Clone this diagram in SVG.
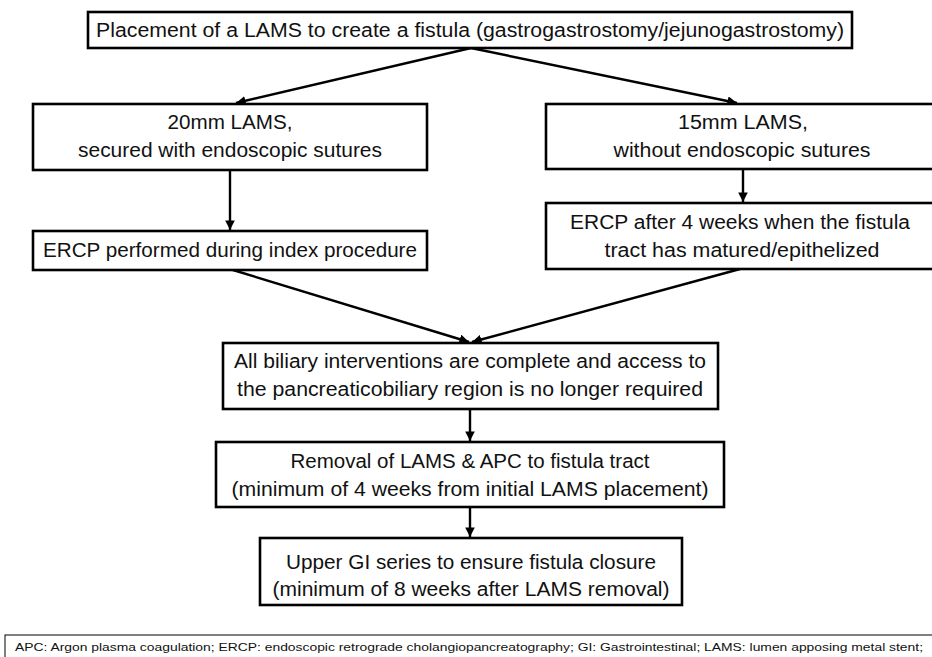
<svg xmlns="http://www.w3.org/2000/svg" width="932" height="657" viewBox="0 0 932 657">
<defs>
<marker id="ah" viewBox="0 0 10 10" refX="10" refY="5" markerWidth="4" markerHeight="4" orient="auto" markerUnits="strokeWidth">
<path d="M0,0 L10,5 L0,10 z" fill="#000"/>
</marker>
<style>
.box{fill:#fff;stroke:#000;stroke-width:2.6}
.t{font-family:'Liberation Sans',Arial,sans-serif;font-size:20px;fill:#111;text-anchor:middle}
.lg{font-family:'Liberation Sans',Arial,sans-serif;font-size:11.5px;fill:#111}
.c{stroke:#000;stroke-width:2.4;fill:none;marker-end:url(#ah)}
</style>
</defs>
<rect width="932" height="657" fill="#fff"/>
<g id="connectors">
<line class="c" x1="471" y1="48" x2="236" y2="103"/>
<line class="c" x1="471" y1="48" x2="737" y2="103"/>
<line class="c" x1="230" y1="170" x2="230" y2="230"/>
<line class="c" x1="743" y1="169" x2="743" y2="202"/>
<line class="c" x1="233" y1="270" x2="469" y2="342"/>
<line class="c" x1="740" y1="269" x2="472" y2="342"/>
<line class="c" x1="470" y1="409" x2="470" y2="441"/>
<line class="c" x1="470" y1="507" x2="470" y2="537"/>
</g>
<g id="n_top">
<rect class="box" x="88" y="12" width="764" height="36"/>
<text class="t" x="470" y="37" textLength="748" lengthAdjust="spacingAndGlyphs">Placement of a LAMS to create a fistula (gastrogastrostomy/jejunogastrostomy)</text>
</g>
<g id="n_20mm">
<rect class="box" x="33" y="104" width="394" height="66"/>
<text class="t" x="230" y="129" textLength="125" lengthAdjust="spacingAndGlyphs">20mm LAMS,</text>
<text class="t" x="230" y="157" textLength="304" lengthAdjust="spacingAndGlyphs">secured with endoscopic sutures</text>
</g>
<g id="n_15mm">
<rect class="box" x="546" y="104" width="390" height="65"/>
<text class="t" x="743" y="129" textLength="130" lengthAdjust="spacingAndGlyphs">15mm LAMS,</text>
<text class="t" x="742" y="157" textLength="257" lengthAdjust="spacingAndGlyphs">without endoscopic sutures</text>
</g>
<g id="n_ercp_index">
<rect class="box" x="33" y="231" width="394" height="39"/>
<text class="t" x="230" y="257" textLength="374" lengthAdjust="spacingAndGlyphs">ERCP performed during index procedure</text>
</g>
<g id="n_ercp_4w">
<rect class="box" x="546" y="203" width="390" height="66"/>
<text class="t" x="740" y="229" textLength="340" lengthAdjust="spacingAndGlyphs">ERCP after 4 weeks when the fistula</text>
<text class="t" x="742" y="257" textLength="275" lengthAdjust="spacingAndGlyphs">tract has matured/epithelized</text>
</g>
<g id="n_biliary">
<rect class="box" x="223" y="343" width="495" height="66"/>
<text class="t" x="470" y="368" textLength="472" lengthAdjust="spacingAndGlyphs">All biliary interventions are complete and access to</text>
<text class="t" x="470" y="396" textLength="466" lengthAdjust="spacingAndGlyphs">the pancreaticobiliary region is no longer required</text>
</g>
<g id="n_removal">
<rect class="box" x="216" y="442" width="508" height="65"/>
<text class="t" x="470" y="468" textLength="359" lengthAdjust="spacingAndGlyphs">Removal of LAMS &amp; APC to fistula tract</text>
<text class="t" x="470" y="496" textLength="477" lengthAdjust="spacingAndGlyphs">(minimum of 4 weeks from initial LAMS placement)</text>
</g>
<g id="n_ugi">
<rect class="box" x="260" y="538" width="422" height="67"/>
<text class="t" x="471" y="569" textLength="370" lengthAdjust="spacingAndGlyphs">Upper GI series to ensure fistula closure</text>
<text class="t" x="471" y="596" textLength="397" lengthAdjust="spacingAndGlyphs">(minimum of 8 weeks after LAMS removal)</text>
</g>
<g id="legend">
<rect x="5" y="635" width="940" height="40" fill="#fff" stroke="#000" stroke-width="1"/>
<text class="lg" x="15" y="651" textLength="908" lengthAdjust="spacingAndGlyphs">APC: Argon plasma coagulation; ERCP: endoscopic retrograde cholangiopancreatography;  GI: Gastrointestinal; LAMS: lumen apposing metal stent;</text>
</g>
</svg>
